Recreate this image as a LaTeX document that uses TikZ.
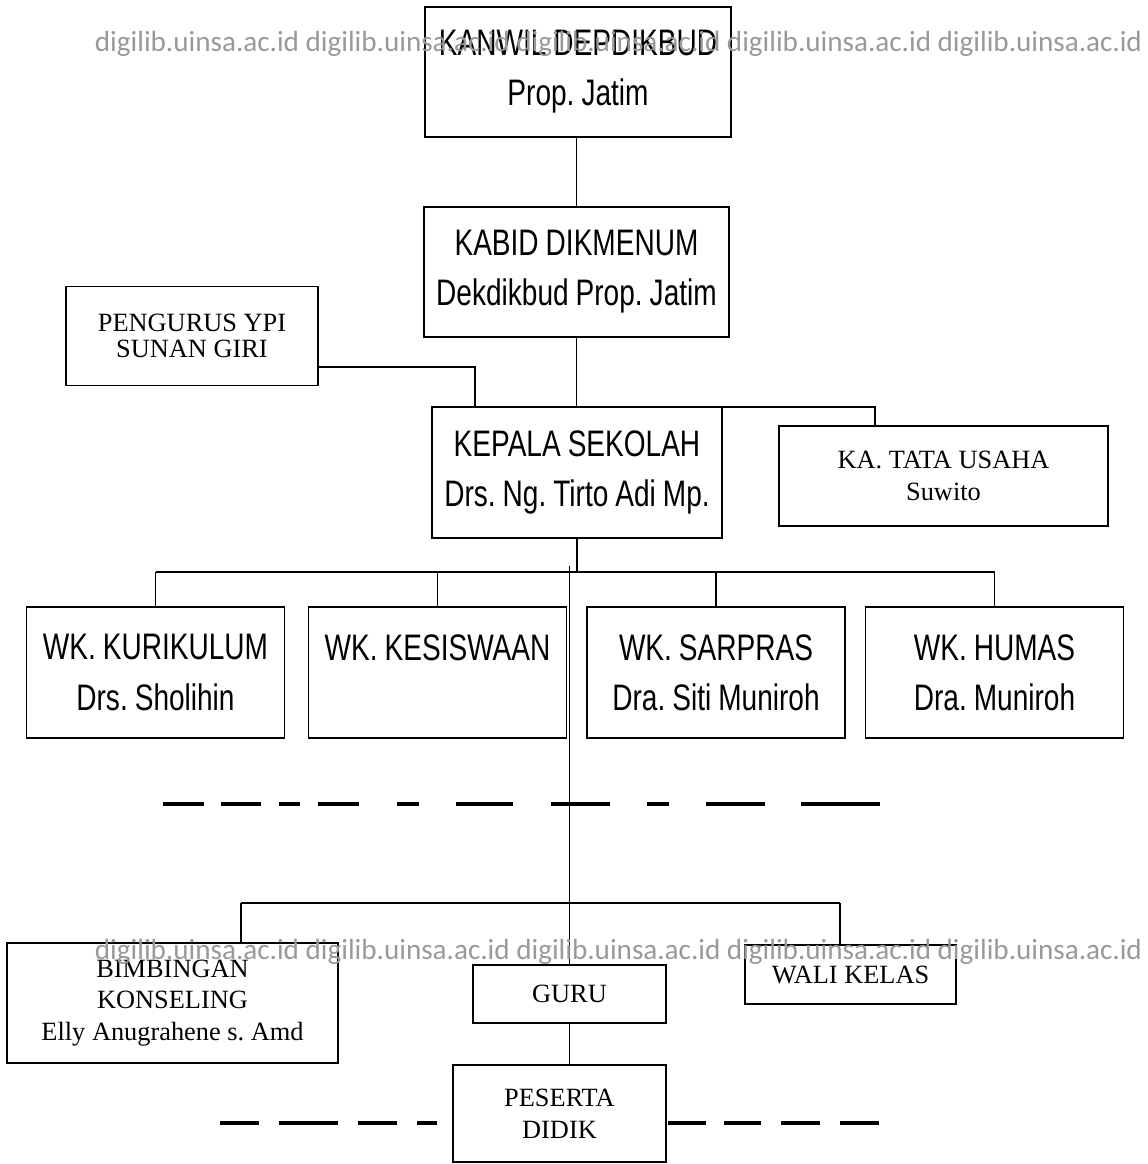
\documentclass[tikz,border=0pt]{standalone}
\usepackage{fontspec}
\newfontfamily\narrowsf[FakeStretch=0.76,WordSpace=0.9]{Liberation Sans}
\newfontfamily\scanrm{Liberation Serif}
\newfontfamily\wmfont{Carlito}
\usetikzlibrary{calc}
\frenchspacing

\begin{document}
\begin{tikzpicture}[x=0.02cm, y=-0.02cm,
  box/.style={draw, line width=1.1pt, inner sep=0pt, align=center},
  sfbox/.style={box, font=\narrowsf\fontsize{21}{28.5}\selectfont},
  rmbox/.style={box, font=\scanrm\fontsize{15}{18}\selectfont},
  wkbox/.style={sfbox, minimum width=5.16cm, minimum height=2.62cm},
  link/.style={line width=1pt},
  gapline/.style={line width=1.8pt},
  wmark/.style={text=black!40, font=\wmfont\fontsize{16.6}{18}\selectfont,
                inner sep=0pt, anchor=east},
]
\useasboundingbox (0,0) rectangle (1148,1164);

% kantor atas
\node[sfbox, minimum width=6.12cm, minimum height=2.6cm] (kanwil) at (578,72) {KANWIL DEPDIKBUD\\Prop. Jatim};
\node[sfbox, minimum width=6.1cm, minimum height=2.6cm] (kabid) at (576.5,272) {KABID DIKMENUM\\Dekdikbud Prop. Jatim};
\node[rmbox, minimum width=5.04cm, minimum height=1.98cm,
      font=\scanrm\fontsize{15}{15}\selectfont] (yayasan) at (192,336) {PENGURUS YPI\\SUNAN GIRI};

% kepala sekolah
\node[sfbox, minimum width=5.8cm, minimum height=2.62cm] (kepsek) at (577,472.5) {KEPALA SEKOLAH\\Drs. Ng. Tirto Adi Mp.};
\node[rmbox, minimum width=6.58cm, minimum height=2cm] (tatausaha) at (943.5,476) {KA. TATA USAHA\\Suwito};

% wakil kepala
\node[wkbox] (wk1) at (155.5,672.5) {WK. KURIKULUM\\Drs. Sholihin};
\node[wkbox] (wk2) at (437.5,672.5) {WK. KESISWAAN\\\mbox{}};
\node[wkbox] (wk3) at (716,672.5) {WK. SARPRAS\\Dra. Siti Muniroh};
\node[wkbox] (wk4) at (994.5,672.5) {WK. HUMAS\\Dra. Muniroh};

% baris bawah
\node[rmbox, minimum width=6.62cm, minimum height=2.4cm] (bk) at (172.5,1003) {BIMBINGAN\\KONSELING\\Elly Anugrahene s. Amd};
\node[rmbox, minimum width=3.86cm, minimum height=1.16cm] (guru) at (569.5,994) {GURU};
\node[rmbox, minimum width=4.22cm, minimum height=1.18cm] (wali) at (850.5,974.5) {WALI KELAS};
\node[rmbox, minimum width=4.26cm, minimum height=1.94cm] (siswa) at (559.5,1113.5) {PESERTA\\DIDIK};

% garis
\coordinate (ypi) at (475,367);
\coordinate (busA) at (475,407);
\coordinate (busB) at (875,407);
\coordinate (busW) at (0,572);
\coordinate (lurus) at (569.5,566);
\coordinate (bawahL) at (241,903);
\coordinate (bawahR) at (840,903);

\draw[link] (kabid.north) -- (kabid.north |- kanwil.south);
\draw[link] (kabid.south) -- (kabid.south |- kepsek.north);
\draw[link] (yayasan.east |- ypi) -- (ypi) -- (busA) -- (busB) -- (busB |- tatausaha.north);
\draw[link] (kepsek.south) -- (kepsek.south |- busW);
\draw[link] (wk1.north |- busW) -- (wk4.north |- busW);
\foreach \w in {wk1,wk2,wk3,wk4}
  \draw[link] (\w.north) -- (\w.north |- busW);
\draw[link] (lurus) -- (guru.north);
\draw[link] (bawahL) -- (bawahR);
\draw[link] (bawahL) -- (bawahL |- bk.north);
\draw[link] (bawahR) -- (bawahR |- wali.north);
\draw[link] (guru.south) -- (guru.south |- siswa.north);

% garis putus-putus
\foreach \a/\b in {163/204,221/261,279/300,318/359,397/419,456/513,551/610,647/669,706/765,801/880}
  \draw[gapline] (\a,804) -- (\b,804);
\foreach \a/\b in {220/259,279/338,358/397,417/437,668/706,724/761,781/820,840/879}
  \draw[gapline] (\a,1123) -- (\b,1123);

% watermark
\node[wmark] (wmA) at (1143,44) {digilib.uinsa.ac.id digilib.uinsa.ac.id digilib.uinsa.ac.id digilib.uinsa.ac.id digilib.uinsa.ac.id};
\node[wmark] (wmB) at (1143,952) {digilib.uinsa.ac.id digilib.uinsa.ac.id digilib.uinsa.ac.id digilib.uinsa.ac.id digilib.uinsa.ac.id};
\end{tikzpicture}
\end{document}
